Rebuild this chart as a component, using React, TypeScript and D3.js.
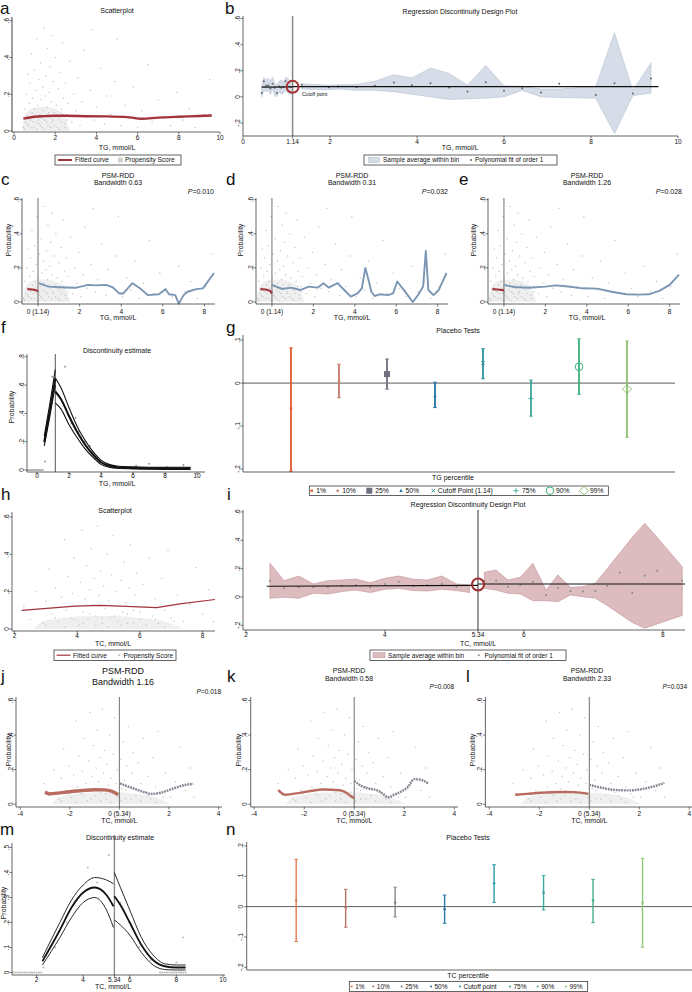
import React from "react";
import * as d3 from "d3";

type Pt = [number, number];
type Bin = [number, number, number, number]; // x, mean, lo, hi
type Sc = d3.ScaleLinear<number, number>;

const FONT = "'Liberation Sans', Arial, Helvetica, sans-serif";

// ---------- TG propensity scores (TG mmol/L, probability) ----------
const tgScatter: Pt[] = [
  [0.45, 0.02], [0.5, 0.12], [0.55, 0.05], [0.6, 0.2], [0.62, 0.08], [0.68, 0.31], [0.7, 0.03], [0.75, 0.15],
  [0.78, 0.26], [0.8, 0.06], [0.85, 0.42], [0.88, 0.1], [0.9, 0.18], [0.95, 0.02], [0.98, 0.33], [1.0, 0.12],
  [1.05, 0.22], [1.08, 0.05], [1.1, 0.5], [1.15, 0.14], [1.2, 0.28], [1.22, 0.04], [1.25, 0.09], [1.3, 0.37],
  [1.32, 0.17], [1.35, 0.02], [1.4, 0.24], [1.42, 0.11], [1.45, 0.56], [1.5, 0.06], [1.52, 0.19], [1.55, 0.3],
  [1.6, 0.13], [1.62, 0.45], [1.65, 0.03], [1.7, 0.21], [1.72, 0.08], [1.75, 0.35], [1.8, 0.16], [1.82, 0.52],
  [1.85, 0.05], [1.9, 0.27], [1.95, 0.1], [2.0, 0.4], [2.05, 0.14], [2.1, 0.02], [2.15, 0.23], [2.2, 0.07],
  [2.25, 0.32], [2.3, 0.12], [2.35, 0.48], [2.4, 0.18], [2.45, 0.04], [2.5, 0.26], [2.55, 0.09], [2.6, 0.15],
  [2.7, 0.38], [2.8, 0.05], [2.9, 0.2], [3.0, 0.11], [3.1, 0.29], [3.2, 0.03], [3.3, 0.16], [3.4, 0.44],
  [3.5, 0.08], [3.7, 0.22], [3.8, 0.55], [3.9, 0.06], [4.0, 0.13], [4.2, 0.34], [4.4, 0.04], [4.5, 0.19],
  [4.7, 0.09], [4.9, 0.27], [5.0, 0.5], [5.2, 0.03], [5.4, 0.14], [5.6, 0.07], [5.8, 0.24], [6.0, 0.02],
  [6.2, 0.11], [6.5, 0.36], [6.7, 0.05], [7.0, 0.17], [7.3, 0.08], [7.6, 0.03], [7.9, 0.21], [8.2, 0.06],
  [8.5, 0.12], [8.8, 0.02], [9.2, 0.09], [9.5, 0.28],
  [0.5, 0.01], [0.65, 0.04], [0.72, 0.07], [0.82, 0.02], [0.92, 0.05], [1.02, 0.08], [1.12, 0.01], [1.18, 0.06],
  [1.28, 0.03], [1.38, 0.07], [1.48, 0.01], [1.58, 0.05], [1.68, 0.1], [1.78, 0.02], [1.88, 0.06], [1.98, 0.03],
  [2.08, 0.08], [2.18, 0.01], [2.28, 0.05], [2.38, 0.09], [2.48, 0.02], [2.58, 0.06],
];
// outline of the dense part of the TG cloud (x, top)
const tgCore: Pt[] = [[0.4, 0.0], [0.5, 0.08], [0.8, 0.12], [1.2, 0.13], [1.6, 0.13], [2.0, 0.12], [2.4, 0.09], [2.7, 0.0]];

// ---------- TC propensity scores ----------
const tcScatter: Pt[] = [
  [2.3, 0.12], [2.5, 0.05], [2.7, 0.2], [2.9, 0.03], [3.0, 0.15], [3.1, 0.32], [3.2, 0.08], [3.3, 0.22],
  [3.4, 0.04], [3.5, 0.17], [3.6, 0.48], [3.65, 0.1], [3.7, 0.28], [3.8, 0.06], [3.85, 0.19], [3.9, 0.38],
  [4.0, 0.12], [4.05, 0.02], [4.1, 0.25], [4.15, 0.53], [4.2, 0.09], [4.25, 0.16], [4.3, 0.34], [4.35, 0.05],
  [4.4, 0.21], [4.45, 0.43], [4.5, 0.13], [4.55, 0.27], [4.6, 0.07], [4.65, 0.55], [4.7, 0.18], [4.75, 0.31],
  [4.8, 0.03], [4.85, 0.23], [4.9, 0.11], [4.95, 0.4], [5.0, 0.15], [5.05, 0.06], [5.1, 0.29], [5.15, 0.5],
  [5.2, 0.12], [5.25, 0.2], [5.3, 0.04], [5.4, 0.26], [5.45, 0.09], [5.5, 0.36], [5.55, 0.14], [5.6, 0.03],
  [5.65, 0.22], [5.7, 0.45], [5.8, 0.1], [5.85, 0.18], [5.9, 0.3], [6.0, 0.05], [6.1, 0.24], [6.2, 0.12],
  [6.3, 0.38], [6.4, 0.07], [6.5, 0.16], [6.6, 0.03], [6.7, 0.27], [6.8, 0.1], [6.9, 0.42], [7.0, 0.06],
  [7.2, 0.18], [7.4, 0.04], [7.6, 0.13], [7.8, 0.33], [8.0, 0.08], [8.2, 0.21], [8.35, 0.04],
  [3.0, 0.02], [3.3, 0.06], [3.6, 0.01], [3.9, 0.05], [4.2, 0.03], [4.4, 0.08], [4.6, 0.02], [4.8, 0.06],
  [5.0, 0.01], [5.2, 0.07], [5.4, 0.02], [5.6, 0.08], [5.8, 0.03], [6.0, 0.09], [6.2, 0.02], [6.5, 0.05],
  [6.8, 0.01], [7.1, 0.04],
];
const tcCore: Pt[] = [[2.6, 0.0], [2.9, 0.04], [3.6, 0.06], [4.4, 0.07], [5.2, 0.07], [6.0, 0.06], [6.8, 0.04], [7.4, 0.0]];

// ---------- a ----------
const aFitted: Pt[] = [[0.45, 0.068], [1.0, 0.078], [1.5, 0.081], [2.0, 0.083], [2.5, 0.083], [3.5, 0.081], [4.5, 0.08], [5.5, 0.076], [6.2, 0.067], [7.0, 0.073], [8.0, 0.078], [9.0, 0.082], [9.6, 0.085]];

// ---------- b ----------
const bLeftBins: Bin[] = [
  [0.43, 0.03, 0.0, 0.08], [0.48, 0.12, 0.05, 0.15], [0.53, 0.085, 0.04, 0.13], [0.58, 0.09, 0.05, 0.14],
  [0.63, 0.065, 0.02, 0.12], [0.68, 0.1, 0.06, 0.15], [0.73, 0.07, 0.01, 0.1], [0.78, 0.03, 0.0, 0.09],
  [0.83, 0.08, 0.04, 0.12], [0.88, 0.07, 0.02, 0.13], [0.93, 0.075, 0.03, 0.11], [0.98, 0.12, 0.05, 0.15],
  [1.03, 0.08, 0.03, 0.14], [1.1, 0.075, 0.02, 0.12],
];
const bRightBins: Bin[] = [
  [1.35, 0.092, 0.06, 0.1], [1.97, 0.074, 0.055, 0.09], [2.19, 0.08, 0.06, 0.092], [2.61, 0.074, 0.05, 0.095],
  [3.03, 0.085, 0.05, 0.12], [3.47, 0.11, 0.04, 0.17], [3.88, 0.09, 0.02, 0.145], [4.31, 0.105, 0.0, 0.22],
  [4.74, 0.072, -0.02, 0.18], [5.16, 0.041, -0.015, 0.09], [5.58, 0.113, -0.01, 0.24], [6.0, 0.046, 0.0, 0.085],
  [6.42, 0.067, 0.05, 0.08], [6.85, 0.033, 0.0, 0.06], [7.27, 0.1, -0.005, 0.06], [8.11, 0.015, -0.01, 0.08],
  [8.54, 0.105, -0.28, 0.49], [8.96, 0.025, 0.01, 0.05], [9.38, 0.14, 0.03, 0.26],
];
const bFitLeft: Pt[] = [[0.43, 0.075], [1.14, 0.077]];
const bFitRight: Pt[] = [[1.14, 0.079], [9.55, 0.078]];

// ---------- c, d, e (TG centred at 1.14) ----------
const cLeft: Pt[] = [[-0.51, 0.075], [-0.25, 0.073], [0, 0.064]];
const cRight: Pt[] = [[0.04, 0.11], [0.5, 0.09], [1.3, 0.085], [1.8, 0.083], [2.4, 0.1], [2.8, 0.097], [3.27, 0.1], [3.6, 0.085], [3.9, 0.05], [4.1, 0.05], [4.54, 0.11], [4.9, 0.08], [5.28, 0.04], [5.81, 0.045], [6.13, 0.075], [6.3, 0.045], [6.6, 0.04], [6.77, -0.01], [7.0, 0.04], [7.19, 0.06], [7.61, 0.075], [7.93, 0.08], [8.46, 0.17]];
const dLeft: Pt[] = [[-0.56, 0.075], [-0.3, 0.073], [-0.1, 0.066], [0, 0.05]];
const dRight: Pt[] = [[0, 0.1], [0.5, 0.076], [0.93, 0.084], [1.36, 0.07], [1.78, 0.09], [2.2, 0.084], [2.49, 0.11], [2.74, 0.084], [3.17, 0.11], [3.49, 0.07], [3.81, 0.031], [4.13, 0.05], [4.34, 0.08], [4.51, 0.2], [4.62, 0.15], [4.8, 0.06], [4.95, 0.035], [5.2, 0.045], [5.6, 0.04], [5.85, 0.05], [6.05, 0.12], [6.4, 0.065], [6.8, 0.0], [7.05, 0.04], [7.3, 0.09], [7.43, 0.3], [7.55, 0.07], [7.8, 0.04], [8.05, 0.07], [8.43, 0.17]];
const eLeft: Pt[] = [[-0.56, 0.075], [-0.3, 0.073], [0, 0.068]];
const eRight: Pt[] = [[0, 0.1], [0.5, 0.088], [1.2, 0.083], [2.0, 0.09], [2.5, 0.097], [3.0, 0.092], [3.8, 0.08], [4.5, 0.078], [5.2, 0.06], [5.9, 0.045], [6.5, 0.043], [7.0, 0.045], [7.5, 0.065], [8.0, 0.1], [8.45, 0.16]];

// ---------- f ----------
const fLeftUpper: Pt[] = [[0.45, 0.24], [0.8, 0.47], [1.14, 0.71]];
const fLeftFit: Pt[] = [[0.45, 0.2], [0.8, 0.42], [1.14, 0.65]];
const fLeftLower: Pt[] = [[0.45, 0.17], [0.8, 0.38], [1.14, 0.6]];
const fRightUpper: Pt[] = [[1.14, 0.65], [1.5, 0.58], [2, 0.44], [2.5, 0.31], [3, 0.21], [3.5, 0.13], [4, 0.07], [4.5, 0.04], [5, 0.028], [6, 0.022], [7, 0.02], [8, 0.02], [9, 0.02], [9.6, 0.02]];
const fRightFit: Pt[] = [[1.14, 0.555], [1.5, 0.5], [2, 0.38], [2.5, 0.27], [3, 0.18], [3.5, 0.11], [4, 0.055], [4.5, 0.03], [5, 0.02], [6, 0.015], [7, 0.012], [8, 0.012], [9, 0.012], [9.6, 0.012]];
const fRightLower: Pt[] = [[1.14, 0.475], [1.5, 0.43], [2, 0.32], [2.5, 0.23], [3, 0.15], [3.5, 0.09], [4, 0.04], [4.5, 0.02], [5, 0.012], [6, 0.008], [7, 0.005], [8, 0.004], [9, 0.004], [9.6, 0.004]];
const fBins: Pt[] = [[0.45, 0.2], [0.5, 0.06], [0.95, 0.66], [1.75, 0.73], [1.95, 0.39], [2.15, 0.33], [2.4, 0.37], [2.6, 0.27], [2.75, 0.23], [3.0, 0.2], [3.3, 0.17], [3.6, 0.08], [3.9, 0.06], [4.3, 0.04], [4.8, 0.03], [5.5, 0.02], [6.2, 0.03], [7.0, 0.045], [7.6, 0.01], [8.1, 0.02], [8.6, 0.015], [9.15, 0.035], [9.5, 0.005]];
const fZeros: number[] = [-0.55, -0.45, -0.35, -0.25, -0.15, -0.05, 0.05, 0.15, 0.25, 0.35];

// ---------- g: placebo tests (TG) ----------
const gLabels = ["1%", "10%", "25%", "50%", "Cutoff Point (1.14)", "75%", "90%", "99%"];
const gEst = [-0.059, 0.005, 0.021, -0.03, 0.047, -0.036, 0.038, -0.014];
const gLow = [-0.205, -0.034, -0.014, -0.057, 0.01, -0.077, -0.026, -0.126];
const gHigh = [0.082, 0.044, 0.056, 0.002, 0.08, 0.007, 0.103, 0.098];

// ---------- h ----------
const hFitted: Pt[] = [[2.23, 0.1], [3.13, 0.112], [3.93, 0.122], [4.73, 0.126], [5.37, 0.122], [6.54, 0.114], [7.28, 0.134], [8.4, 0.158]];

// ---------- i ----------
const iLeftMeans: Pt[] = [[2.345, 0.115], [2.55, 0.061], [2.76, 0.068], [2.97, 0.068], [3.18, 0.073], [3.38, 0.08], [3.58, 0.085], [3.79, 0.068], [4.0, 0.092], [4.2, 0.108], [4.41, 0.08], [4.61, 0.085], [4.82, 0.092], [5.03, 0.073]];
const iLeftBand: Pt[] = [[2.345, -0.009], [2.55, -0.002], [2.76, -0.009], [2.97, 0.026], [3.18, 0.021], [3.38, 0.038], [3.58, 0.049], [3.79, 0.031], [4.0, 0.054], [4.2, 0.061], [4.41, 0.045], [4.61, 0.042], [4.82, 0.054], [5.03, 0.045], [5.22, 0.031]];
const iLeftBandHi: number[] = [0.238, 0.115, 0.148, 0.092, 0.115, 0.12, 0.127, 0.101, 0.132, 0.148, 0.125, 0.12, 0.148, 0.092, 0.085];
const iRightMeans: Pt[] = [[5.43, 0.115], [5.6, 0.115], [5.77, 0.073], [5.95, 0.087], [6.13, 0.106], [6.32, 0.014], [6.49, 0.066], [6.67, 0.042], [6.85, 0.038], [7.03, 0.042], [7.2, 0.08], [7.38, 0.172], [7.56, 0.03], [7.74, 0.15], [7.92, 0.186], [8.28, 0.115]];
const iRightBand: Pt[] = [[5.43, 0.061], [5.6, 0.049], [5.77, 0.026], [5.95, 0.021], [6.13, -0.026], [6.32, -0.026], [6.49, -0.033], [6.67, 0.014], [6.85, 0.002], [7.03, -0.009], [7.2, -0.06], [7.38, -0.12], [7.56, -0.18], [7.74, -0.22], [7.92, -0.19], [8.28, -0.13]];
const iRightBandHi: number[] = [0.174, 0.19, 0.12, 0.139, 0.238, 0.049, 0.156, 0.068, 0.073, 0.097, 0.2, 0.31, 0.42, 0.52, 0.42, 0.214];
const iFitLeft: Pt[] = [[2.3, 0.076], [5.34, 0.082]];
const iFitRight: Pt[] = [[5.34, 0.092], [8.32, 0.092]];

// ---------- j, k, l (TC centred at 5.34) ----------
const jLeft: Pt[] = [[-3.0, 0.07], [-2.8, 0.06], [-2.5, 0.064], [-2.0, 0.072], [-1.5, 0.079], [-1.0, 0.084], [-0.6, 0.083], [-0.3, 0.075], [-0.05, 0.055]];
const jRight: Pt[] = [[0.03, 0.12], [0.3, 0.105], [0.57, 0.091], [1.0, 0.07], [1.3, 0.06], [1.7, 0.068], [2.18, 0.091], [2.6, 0.11], [2.98, 0.118]];
const kLeft: Pt[] = [[-3.04, 0.081], [-2.77, 0.055], [-2.17, 0.066], [-1.7, 0.078], [-1.24, 0.085], [-0.57, 0.081], [-0.3, 0.065], [-0.17, 0.05], [-0.01, 0.035]];
const kRight: Pt[] = [[0, 0.135], [0.3, 0.105], [0.6, 0.09], [0.9, 0.082], [1.15, 0.06], [1.36, 0.04], [1.6, 0.055], [1.9, 0.075], [2.15, 0.1], [2.4, 0.145], [2.7, 0.14], [2.95, 0.12]];
const lLeft: Pt[] = [[-2.97, 0.055], [-2.5, 0.06], [-1.97, 0.066], [-1.17, 0.071], [-0.6, 0.07], [-0.04, 0.06]];
const lRight: Pt[] = [[0, 0.112], [0.5, 0.095], [1.0, 0.083], [1.6, 0.08], [2.0, 0.085], [2.5, 0.1], [3.0, 0.123]];

// ---------- m ----------
const mLeftUpper: Pt[] = [[2.25, 0.06], [3.0, 0.2], [3.5, 0.29], [4.0, 0.35], [4.5, 0.38], [5.0, 0.37], [5.3, 0.355]];
const mLeftFit: Pt[] = [[2.25, 0.045], [3.0, 0.17], [3.5, 0.26], [4.0, 0.32], [4.5, 0.34], [5.0, 0.31], [5.3, 0.265]];
const mLeftLower: Pt[] = [[2.25, 0.03], [3.0, 0.14], [3.5, 0.22], [4.0, 0.28], [4.5, 0.3], [5.0, 0.25], [5.3, 0.18]];
const mRightUpper: Pt[] = [[5.34, 0.4], [5.6, 0.34], [6.0, 0.25], [6.5, 0.14], [7.0, 0.07], [7.5, 0.035], [8.0, 0.03], [8.4, 0.03]];
const mRightFit: Pt[] = [[5.34, 0.305], [5.6, 0.27], [6.0, 0.2], [6.5, 0.11], [7.0, 0.05], [7.5, 0.025], [8.0, 0.02], [8.4, 0.02]];
const mRightLower: Pt[] = [[5.34, 0.21], [5.6, 0.19], [6.0, 0.15], [6.5, 0.08], [7.0, 0.03], [7.5, 0.012], [8.0, 0.01], [8.4, 0.01]];
const mBins: Pt[] = [[2.3, 0.02], [2.8, 0.1], [3.3, 0.2], [3.8, 0.3], [4.2, 0.42], [4.6, 0.36], [5.1, 0.47], [5.6, 0.28], [6.0, 0.2], [6.4, 0.1], [6.9, 0.05], [7.4, 0.03], [8.0, 0.04], [8.3, 0.14]];
const mZeros: number[] = [1.0, 1.1, 1.2, 1.3, 1.4, 1.5, 1.6, 1.7, 1.8, 1.9, 2.0, 2.1, 2.2, 7.3, 7.4, 7.5, 7.6, 7.7, 7.8, 7.9, 8.0, 8.1, 8.2, 8.3, 8.4];

// ---------- n: placebo tests (TC) ----------
const nLabels = ["1%", "10%", "25%", "50%", "Cutoff point", "75%", "90%", "99%"];
const nEst = [0.02, -0.003, 0.013, -0.009, 0.077, 0.046, 0.02, 0.013];
const nLow = [-0.115, -0.068, -0.034, -0.055, 0.014, -0.011, -0.053, -0.134];
const nHigh = [0.156, 0.057, 0.064, 0.038, 0.138, 0.102, 0.09, 0.159];

// ---------- tick labels ----------
const yTicks6 = [0, 0.2, 0.4, 0.6];
const yLabels6 = ["0", ".2", ".4", ".6"];
const bYTicks = [-0.2, 0, 0.2, 0.4, 0.6];
const bYLabels = ["-.2", "0", ".2", ".4", ".6"];
const tgTicks = [0, 2, 4, 6, 8, 10];
const tgLabels = ["0", "2", "4", "6", "8", "10"];
const bXTicks = [0, 1.14, 2, 4, 6, 8, 10];
const bXLabels = ["0", "1.14", "2", "4", "6", "8", "10"];
const relTgTicks = [0, 2, 4, 6, 8];
const relTgLabels = ["0 (1.14)", "2", "4", "6", "8"];
const fYTicks = [0, 0.2, 0.4, 0.6, 0.8];
const fYLabels = ["0", ".2", ".4", ".6", ".8"];
const gYTicks = [-0.2, -0.1, 0, 0.1];
const gYLabels = ["-.2", "-.1", "0", ".1"];
const tcTicks = [2, 4, 6, 8];
const tcLabels = ["2", "4", "6", "8"];
const iXTicks = [2, 4, 5.34, 6, 8];
const iXLabels = ["2", "4", "5.34", "6", "8"];
const relTcTicks = [-4, -2, 0, 2, 4];
const relTcLabels = ["-4", "-2", "0 (5.34)", "2", "4"];
const mYTicks = [0, 0.1, 0.2, 0.3, 0.4, 0.5];
const mYLabels = ["0", ".1", ".2", ".3", ".4", ".5"];
const mXTicks = [2, 4, 5.34, 6, 8, 10];
const mXLabels = ["2", "4", "5.34", "6", "8", "10"];
const nYTicks = [-0.2, -0.1, 0, 0.1, 0.2];
const nYLabels = ["-.2", "-.1", "0", ".1", ".2"];

// ---------- styles ----------
const RED = "#a3343b";
const DOT = "#c6c6c6";
const gColors = ["#e4572e", "#c47a6a", "#6e6e7e", "#2173a6", "#2a8f9a", "#3aa89a", "#3ab27a", "#8dc26f"];
const gMarks = ["sq", "dot", "bigsq", "tri", "x", "plus", "circle", "diamond"];
const nColors = ["#e07a50", "#b8735f", "#888888", "#2a78a8", "#2a9aa8", "#3aa8a0", "#45b088", "#90c878"];

function T(p: { x: number; y: number; s?: number; a?: string; r?: number; children: React.ReactNode; w?: string }) {
  const { x, y, s = 7, a = "middle", r = 0, children, w } = p;
  return (
    <text transform={`translate(${x},${y}) rotate(${r})`} textAnchor={a} fontSize={s} fontFamily={FONT} fontWeight={w} fill="#111">
      {children}
    </text>
  );
}

function YAxis(p: { s: Sc; x: number; ticks: number[]; labels: string[]; stroke?: string; sw?: number }) {
  const { s, x, ticks, labels, stroke = "#222", sw = 0.7 } = p;
  const [r0, r1] = s.range();
  return (
    <g>
      <line x1={x} x2={x} y1={r0} y2={r1} stroke={stroke} strokeWidth={sw} />
      {ticks.map((t, i) => (
        <g key={i}>
          <line x1={x - 2.5} x2={x} y1={s(t)} y2={s(t)} stroke="#222" strokeWidth={0.6} />
          <T x={x - 3.5} y={s(t)} s={6.5} r={-90}>{labels[i]}</T>
        </g>
      ))}
    </g>
  );
}

function XAxis(p: { s: Sc; y: number; ticks: number[]; labels: string[]; ly: number; stroke?: string }) {
  const { s, y, ticks, labels, ly, stroke = "#222" } = p;
  const [r0, r1] = s.range();
  return (
    <g>
      <line x1={r0} x2={r1} y1={y} y2={y} stroke={stroke} strokeWidth={0.7} />
      {ticks.map((t, i) => (
        <g key={i}>
          <line x1={s(t)} x2={s(t)} y1={y} y2={y + 2.5} stroke="#222" strokeWidth={0.6} />
          <T x={s(t)} y={ly} s={6.5}>{labels[i]}</T>
        </g>
      ))}
    </g>
  );
}

function Scatter(p: { pts: Pt[]; xs: Sc; ys: Sc; dx?: number; r?: number; fill?: string }) {
  const { pts, xs, ys, dx = 0, r = 0.75, fill = DOT } = p;
  return <g>{pts.map((d, i) => <circle key={i} cx={xs(d[0] - dx)} cy={ys(d[1])} r={r} fill={fill} />)}</g>;
}

function Core(p: { pts: Pt[]; xs: Sc; ys: Sc; dx?: number }) {
  const { pts, xs, ys, dx = 0 } = p;
  const area = d3.area<Pt>().x((d) => xs(d[0] - dx)).y0(ys(0)).y1((d) => ys(d[1])).curve(d3.curveMonotoneX);
  return <path d={area(pts) ?? ""} fill="#dcdcdc" opacity={0.45} />;
}

function Curve(p: { pts: Pt[]; xs: Sc; ys: Sc; stroke: string; sw: number; dash?: string; smooth?: boolean }) {
  const { pts, xs, ys, stroke, sw, dash, smooth } = p;
  const gen = d3.line<Pt>().x((d) => xs(d[0])).y((d) => ys(d[1])).curve(smooth ? d3.curveMonotoneX : d3.curveLinear);
  return <path d={gen(pts) ?? ""} fill="none" stroke={stroke} strokeWidth={sw} strokeDasharray={dash} strokeLinejoin="round" />;
}

function Marker(p: { k: string; x: number; y: number; c: string }) {
  const { k, x, y, c } = p;
  switch (k) {
    case "sq": return <rect x={x - 1.2} y={y - 1.2} width={2.4} height={2.4} fill={c} />;
    case "bigsq": return <rect x={x - 3} y={y - 3} width={6} height={6} fill={c} />;
    case "tri": return <path d={`M${x},${y - 1.9}L${x + 1.7},${y + 1.2}L${x - 1.7},${y + 1.2}Z`} fill={c} />;
    case "x": return <path d={`M${x - 1.8},${y - 1.8}L${x + 1.8},${y + 1.8}M${x - 1.8},${y + 1.8}L${x + 1.8},${y - 1.8}`} stroke={c} strokeWidth={0.9} />;
    case "plus": return <path d={`M${x - 2.6},${y}H${x + 2.6}M${x},${y - 2.6}V${y + 2.6}`} stroke={c} strokeWidth={0.9} />;
    case "circle": return <circle cx={x} cy={y} r={3.8} fill="none" stroke={c} strokeWidth={1} />;
    case "diamond": return <path d={`M${x},${y - 4.5}L${x + 4.5},${y}L${x},${y + 4.5}L${x - 4.5},${y}Z`} fill="none" stroke={c} strokeWidth={1} />;
    default: return <circle cx={x} cy={y} r={1.3} fill={c} />;
  }
}

function Placebo(p: { xs: Sc; ys: Sc; est: number[]; lo: number[]; hi: number[]; colors: string[]; marks?: string[]; sw: number }) {
  const { xs, ys, est, lo, hi, colors, marks, sw } = p;
  return (
    <g>
      {est.map((e, i) => {
        const x = xs(i + 1);
        const c = colors[i];
        return (
          <g key={i}>
            <line x1={x} x2={x} y1={ys(lo[i])} y2={ys(hi[i])} stroke={c} strokeWidth={sw} />
            <line x1={x - 1.8} x2={x + 1.8} y1={ys(lo[i])} y2={ys(lo[i])} stroke={c} strokeWidth={1} />
            <line x1={x - 1.8} x2={x + 1.8} y1={ys(hi[i])} y2={ys(hi[i])} stroke={c} strokeWidth={1} />
            <Marker k={marks ? marks[i] : "dot"} x={x} y={ys(e)} c={c} />
          </g>
        );
      })}
    </g>
  );
}

function BandArea(p: { lo: Pt[]; hi: number[]; xs: Sc; ys: Sc; fill: string; stroke: string }) {
  const { lo, hi, xs, ys, fill, stroke } = p;
  const area = d3.area<Pt>().x((d) => xs(d[0])).y0((d) => ys(d[1])).y1((_, i) => ys(hi[i]));
  return <path d={area(lo) ?? ""} fill={fill} stroke={stroke} strokeWidth={0.6} />;
}

function PsmTg(p: { xs: Sc; ys: Sc; left: Pt[]; right: Pt[]; yAxisX: number; probX: number; title: string; pval: string; pRight: number; cx: number }) {
  const { xs, ys, left, right, yAxisX, probX, title, pval, pRight, cx } = p;
  return (
    <g>
      <Core pts={tgCore} xs={xs} ys={ys} dx={1.14} />
      <Scatter pts={tgScatter} xs={xs} ys={ys} dx={1.14} />
      <line x1={xs(0)} x2={xs(0)} y1={198} y2={304} stroke="#333" strokeWidth={0.7} />
      <Curve pts={left} xs={xs} ys={ys} stroke={RED} sw={2.2} />
      <Curve pts={right} xs={xs} ys={ys} stroke="#7b96b5" sw={1.9} />
      <YAxis s={ys} x={yAxisX} ticks={yTicks6} labels={yLabels6} />
      <XAxis s={xs} y={304} ticks={relTgTicks} labels={relTgLabels} ly={313.5} />
      <T x={cx} y={319.5}>TG, mmol/L</T>
      <T x={probX} y={240} r={-90}>Probability</T>
      <T x={cx} y={177.5}>PSM-RDD</T>
      <T x={cx} y={185}>{title}</T>
      <T x={pRight} y={193.5} a="end"><tspan fontStyle="italic">P</tspan>{pval}</T>
    </g>
  );
}

function PsmTc(p: { xs: Sc; ys: Sc; left: Pt[]; right: Pt[]; yAxisX: number; probX: number; lw: number }) {
  const { xs, ys, left, right, yAxisX, probX, lw } = p;
  return (
    <g>
      <Core pts={tcCore} xs={xs} ys={ys} dx={5.34} />
      <Scatter pts={tcScatter} xs={xs} ys={ys} dx={5.34} />
      <line x1={xs(0)} x2={xs(0)} y1={697} y2={807} stroke="#333" strokeWidth={0.7} />
      <Curve pts={left} xs={xs} ys={ys} stroke="#b86b5e" sw={lw} smooth />
      <Curve pts={right} xs={xs} ys={ys} stroke="#80858f" sw={2.4} dash="1.8,0.9" smooth />
      <YAxis s={ys} x={yAxisX} ticks={yTicks6} labels={yLabels6} />
      <XAxis s={xs} y={807} ticks={relTcTicks} labels={relTcLabels} ly={815.5} />
      <T x={xs(0)} y={822.5}>TC, mmol/L</T>
      <T x={probX} y={750} r={-90}>Probability</T>
    </g>
  );
}

export default function App() {
  const xa = d3.scaleLinear().domain([-0.1, 10]).range([12, 220]);
  const ya = d3.scaleLinear().domain([-0.005, 0.62]).range([132, 17]);
  const xb = d3.scaleLinear().domain([0, 10]).range([243, 678]);
  const yb = d3.scaleLinear().domain([-0.3, 0.62]).range([136, 16]);
  const yc = d3.scaleLinear().domain([-0.012, 0.61]).range([304, 198]);
  const xc = d3.scaleLinear().domain([-0.77, 8.5]).range([22, 214.8]);
  const xd = d3.scaleLinear().domain([-0.77, 8.5]).range([256, 448]);
  const xe = d3.scaleLinear().domain([-0.77, 8.5]).range([488, 680]);
  const xf = d3.scaleLinear().domain([-0.63, 10.5]).range([27, 205]);
  const yf = d3.scaleLinear().domain([-0.014, 0.82]).range([472, 354]);
  const xg = d3.scaleLinear().domain([0, 9]).range([243, 675]);
  const yg = d3.scaleLinear().domain([-0.207, 0.112]).range([472, 335]);
  const xh = d3.scaleLinear().domain([1.92, 8.4]).range([12, 215]);
  const yh = d3.scaleLinear().domain([-0.011, 0.627]).range([631, 512]);
  const xi = d3.scaleLinear().domain([1.957, 8.32]).range([243, 685]);
  const yi = d3.scaleLinear().domain([-0.233, 0.614]).range([630, 510]);
  const yj = d3.scaleLinear().domain([-0.016, 0.62]).range([807, 697]);
  const xj = d3.scaleLinear().domain([-4.17, 4.14]).range([16, 222]);
  const xk = d3.scaleLinear().domain([-4.14, 4.15]).range([250.7, 458]);
  const xl = d3.scaleLinear().domain([-4.16, 4.11]).range([485.4, 692]);
  const xm = d3.scaleLinear().domain([0.944, 10.09]).range([12, 225]);
  const ym = d3.scaleLinear().domain([-0.01, 0.518]).range([975, 843]);
  const xn = d3.scaleLinear().domain([0, 9]).range([246.7, 692]);
  const yn = d3.scaleLinear().domain([-0.209, 0.213]).range([970, 842]);

  const bMean = (b: Bin[]) => b.map((d) => [d[0], d[1]] as Pt);
  const bBand = (b: Bin[]) => {
    const a = d3.area<Bin>().x((d) => xb(d[0])).y0((d) => yb(d[2])).y1((d) => yb(d[3]));
    return a(b) ?? "";
  };

  const letters: [string, number, number][] = [
    ["a", 0, 14], ["b", 225, 14], ["c", 1, 185], ["d", 226, 185], ["e", 459, 185],
    ["f", 1, 333], ["g", 226, 333], ["h", 1, 500], ["i", 227, 500],
    ["j", 1, 682], ["k", 227, 682], ["l", 466, 682], ["m", 0, 835], ["n", 226, 835],
  ];

  const gLegX = [311.7, 337.7, 369.3, 401, 433.3, 516, 550, 584];
  const nLegX = [351.7, 373.3, 401.7, 431, 460, 510, 537.7, 566];

  return (
    <svg width={692} height={992} style={{ position: "absolute", left: 0, top: 0, background: "#fff" }} fontFamily={FONT}>
      <rect width={692} height={992} fill="#fff" />
      {letters.map(([t, x, y]) => (
        <text key={t} x={x} y={y} fontSize={17} fontFamily={FONT} fill="#111">{t}</text>
      ))}

      {/* a */}
      <Core pts={tgCore} xs={xa} ys={ya} />
      <Scatter pts={tgScatter} xs={xa} ys={ya} />
      <Curve pts={aFitted} xs={xa} ys={ya} stroke={RED} sw={2.4} smooth />
      <YAxis s={ya} x={12} ticks={yTicks6} labels={yLabels6} stroke="#888" sw={1.6} />
      <XAxis s={xa} y={132} ticks={tgTicks} labels={tgLabels} ly={139.5} />
      <T x={117} y={12.5}>Scatterplot</T>
      <T x={117} y={149.5}>TG, mmol/L</T>
      <g>
        <rect x={55} y={155} width={126} height={10} fill="#fff" stroke="#222" strokeWidth={0.7} />
        <line x1={58} x2={72} y1={160} y2={160} stroke={RED} strokeWidth={2} />
        <T x={75} y={162.4} s={6.5} a="start">Fitted curve</T>
        <rect x={118} y={157.6} width={4.8} height={4.8} fill="#d0d0d0" />
        <T x={125} y={162.4} s={6.5} a="start">Propensity Score</T>
      </g>

      {/* b */}
      <path d={bBand(bLeftBins)} fill="#d6dde9" stroke="#aab6c8" strokeWidth={0.5} />
      <path d={bBand(bRightBins)} fill="#d6dde9" stroke="#aab6c8" strokeWidth={0.5} />
      <Scatter pts={bMean(bLeftBins)} xs={xb} ys={yb} r={1} fill="#666" />
      <Scatter pts={bMean(bRightBins)} xs={xb} ys={yb} r={1} fill="#666" />
      <line x1={xb(1.14)} x2={xb(1.14)} y1={16} y2={136} stroke="#888" strokeWidth={1.5} />
      <Curve pts={bFitLeft} xs={xb} ys={yb} stroke="#111" sw={1.2} />
      <Curve pts={bFitRight} xs={xb} ys={yb} stroke="#111" sw={1.2} />
      <circle cx={xb(1.14)} cy={yb(0.077)} r={6} fill="none" stroke="#a83232" strokeWidth={2} />
      <T x={302} y={96} s={5} a="start">Cutoff point</T>
      <YAxis s={yb} x={243} ticks={bYTicks} labels={bYLabels} />
      <XAxis s={xb} y={136} ticks={bXTicks} labels={bXLabels} ly={143.5} />
      <T x={460} y={14}>Regression Discontinuity Design Plot</T>
      <T x={460} y={150}>TG, mmol/L</T>
      <g>
        <rect x={364} y={155} width={193} height={10} fill="#fff" stroke="#222" strokeWidth={0.7} />
        <rect x={368.5} y={157.5} width={11} height={5} fill="#d6dde9" stroke="#aab6c8" strokeWidth={0.5} />
        <T x={383} y={162.4} s={6.5} a="start">Sample average within bin</T>
        <circle cx={471} cy={160} r={1} fill="#666" />
        <T x={475} y={162.4} s={6.5} a="start">Polynomial fit of order 1</T>
      </g>

      {/* c, d, e */}
      <PsmTg xs={xc} ys={yc} left={cLeft} right={cRight} yAxisX={22} probX={10.5} title="Bandwidth 0.63" pval="=0.010" pRight={214} cx={118} />
      <PsmTg xs={xd} ys={yc} left={dLeft} right={dRight} yAxisX={256} probX={243} title="Bandwidth 0.31" pval="=0.032" pRight={448} cx={352} />
      <PsmTg xs={xe} ys={yc} left={eLeft} right={eRight} yAxisX={488} probX={476} title="Bandwidth 1.26" pval="=0.028" pRight={682} cx={587} />

      {/* f */}
      <Scatter pts={fZeros.map((x) => [x, 0] as Pt)} xs={xf} ys={yf} r={1.1} fill="#aaa" />
      <Scatter pts={fBins} xs={xf} ys={yf} r={1} fill="#999" />
      <line x1={xf(1.14)} x2={xf(1.14)} y1={354} y2={472} stroke="#444" strokeWidth={0.9} />
      <Curve pts={fLeftUpper} xs={xf} ys={yf} stroke="#111" sw={1.1} />
      <Curve pts={fLeftFit} xs={xf} ys={yf} stroke="#111" sw={2} />
      <Curve pts={fLeftLower} xs={xf} ys={yf} stroke="#111" sw={1.1} />
      <Curve pts={fRightUpper} xs={xf} ys={yf} stroke="#111" sw={1.1} smooth />
      <Curve pts={fRightFit} xs={xf} ys={yf} stroke="#111" sw={2} smooth />
      <Curve pts={fRightLower} xs={xf} ys={yf} stroke="#111" sw={1.1} smooth />
      <YAxis s={yf} x={27} ticks={fYTicks} labels={fYLabels} />
      <XAxis s={xf} y={472} ticks={tgTicks} labels={tgLabels} ly={477.8} />
      <T x={117} y={353}>Discontinuity estimate</T>
      <T x={117} y={485.5}>TG, mmol/L</T>
      <T x={14} y={407} r={-90}>Probability</T>

      {/* g */}
      <line x1={243} x2={675} y1={yg(0)} y2={yg(0)} stroke="#333" strokeWidth={0.8} />
      <Placebo xs={xg} ys={yg} est={gEst} lo={gLow} hi={gHigh} colors={gColors} marks={gMarks} sw={1.8} />
      <YAxis s={yg} x={243} ticks={gYTicks} labels={gYLabels} />
      <line x1={243} x2={675} y1={472} y2={472} stroke="#222" strokeWidth={0.7} />
      <T x={458} y={333}>Placebo Tests</T>
      <T x={453} y={479.5}>TG percentile</T>
      <g>
        <rect x={309.3} y={486} width={299} height={9.5} fill="#fff" stroke="#222" strokeWidth={0.7} />
        {gLabels.map((lab, i) => (
          <g key={lab}>
            <Marker k={gMarks[i]} x={gLegX[i]} y={490.7} c={gColors[i]} />
            <T x={gLegX[i] + (i === 2 || i >= 5 ? 6 : 4.5)} y={493.2} s={6.8} a="start">{lab}</T>
          </g>
        ))}
      </g>

      {/* h */}
      <Core pts={tcCore} xs={xh} ys={yh} />
      <Scatter pts={tcScatter} xs={xh} ys={yh} />
      <Curve pts={hFitted} xs={xh} ys={yh} stroke={RED} sw={1.2} />
      <YAxis s={yh} x={12} ticks={yTicks6} labels={yLabels6} />
      <XAxis s={xh} y={631} ticks={tcTicks} labels={tcLabels} ly={637.5} />
      <T x={115} y={513}>Scatterplot</T>
      <T x={113} y={645.5}>TC, mmol/L</T>
      <g>
        <rect x={54} y={650} width={122} height={10.5} fill="#fff" stroke="#222" strokeWidth={0.7} />
        <line x1={56.5} x2={70.5} y1={655.2} y2={655.2} stroke={RED} strokeWidth={1.2} />
        <T x={73} y={657.6} s={6.5} a="start">Fitted curve</T>
        <circle cx={119} cy={655.2} r={1} fill="#bbb" />
        <T x={123.6} y={657.6} s={6.5} a="start">Propensity Score</T>
      </g>

      {/* i */}
      <BandArea lo={iLeftBand} hi={iLeftBandHi} xs={xi} ys={yi} fill="#dcbcbf" stroke="#c48f95" />
      <BandArea lo={iRightBand} hi={iRightBandHi} xs={xi} ys={yi} fill="#dcbcbf" stroke="#c48f95" />
      <Scatter pts={iLeftMeans} xs={xi} ys={yi} r={1} fill="#8a8a8a" />
      <Scatter pts={iRightMeans} xs={xi} ys={yi} r={1} fill="#8a8a8a" />
      <line x1={xi(5.34)} x2={xi(5.34)} y1={510} y2={630} stroke="#777" strokeWidth={1.5} />
      <Curve pts={iFitLeft} xs={xi} ys={yi} stroke="#111" sw={1.1} />
      <Curve pts={iFitRight} xs={xi} ys={yi} stroke="#111" sw={1.1} />
      <circle cx={xi(5.34)} cy={yi(0.088)} r={6} fill="none" stroke="#9e2a2f" strokeWidth={2} />
      <YAxis s={yi} x={243} ticks={bYTicks} labels={bYLabels} />
      <XAxis s={xi} y={630} ticks={iXTicks} labels={iXLabels} ly={637} />
      <T x={468} y={507}>Regression Discontinuity Design Plot</T>
      <T x={478} y={645.5}>TC, mmol/L</T>
      <g>
        <rect x={370} y={650} width={196} height={10.5} fill="#fff" stroke="#222" strokeWidth={0.7} />
        <rect x={373} y={652.6} width={12} height={5.2} fill="#dcbcbf" stroke="#c48f95" strokeWidth={0.5} />
        <T x={388} y={657.6} s={6.5} a="start">Sample average within bin</T>
        <circle cx={478.8} cy={655.2} r={1} fill="#8a8a8a" />
        <T x={484.5} y={657.6} s={6.5} a="start">Polynomial fit of order 1</T>
      </g>

      {/* j, k, l */}
      <PsmTc xs={xj} ys={yj} left={jLeft} right={jRight} yAxisX={16} probX={11} lw={3.4} />
      <PsmTc xs={xk} ys={yj} left={kLeft} right={kRight} yAxisX={250.7} probX={240.5} lw={2.4} />
      <PsmTc xs={xl} ys={yj} left={lLeft} right={lRight} yAxisX={485.4} probX={474.5} lw={2.4} />
      <T x={123} y={673.5} s={9}>PSM-RDD</T>
      <T x={123} y={685} s={9}>Bandwidth 1.16</T>
      <T x={221} y={694} s={6.5} a="end"><tspan fontStyle="italic">P</tspan>=0.018</T>
      <T x={349} y={672.5}>PSM-RDD</T>
      <T x={349} y={680.5}>Bandwidth 0.58</T>
      <T x={454} y={689} s={6.5} a="end"><tspan fontStyle="italic">P</tspan>=0.008</T>
      <T x={587} y={672.5}>PSM-RDD</T>
      <T x={587} y={680.5}>Bandwidth 2.33</T>
      <T x={687} y={689} s={6.5} a="end"><tspan fontStyle="italic">P</tspan>=0.034</T>

      {/* m */}
      <Scatter pts={mZeros.map((x) => [x, 0] as Pt)} xs={xm} ys={ym} r={1.1} fill="#bbb" />
      <Scatter pts={mBins} xs={xm} ys={ym} r={1} fill="#bbb" />
      <line x1={xm(5.34)} x2={xm(5.34)} y1={835} y2={975} stroke="#888" strokeWidth={1.4} />
      <Curve pts={mLeftUpper} xs={xm} ys={ym} stroke="#111" sw={0.9} smooth />
      <Curve pts={mLeftFit} xs={xm} ys={ym} stroke="#111" sw={1.8} smooth />
      <Curve pts={mLeftLower} xs={xm} ys={ym} stroke="#111" sw={0.9} smooth />
      <Curve pts={mRightUpper} xs={xm} ys={ym} stroke="#111" sw={0.9} smooth />
      <Curve pts={mRightFit} xs={xm} ys={ym} stroke="#111" sw={1.8} smooth />
      <Curve pts={mRightLower} xs={xm} ys={ym} stroke="#111" sw={0.9} smooth />
      <YAxis s={ym} x={12} ticks={mYTicks} labels={mYLabels} />
      <XAxis s={xm} y={975} ticks={mXTicks} labels={mXLabels} ly={981.8} />
      <T x={120} y={839.5}>Discontinuity estimate</T>
      <T x={113} y={989}>TC, mmol/L</T>
      <T x={6} y={903} r={-90}>Probability</T>

      {/* n */}
      <line x1={246.7} x2={692} y1={yn(0)} y2={yn(0)} stroke="#333" strokeWidth={0.8} />
      <Placebo xs={xn} ys={yn} est={nEst} lo={nLow} hi={nHigh} colors={nColors} sw={1.4} />
      <YAxis s={yn} x={246.7} ticks={nYTicks} labels={nYLabels} />
      <line x1={246.7} x2={692} y1={970} y2={970} stroke="#222" strokeWidth={0.7} />
      <T x={468} y={839.5}>Placebo Tests</T>
      <T x={468} y={977.5}>TC percentile</T>
      <g>
        <rect x={349.3} y={981.5} width={238.4} height={10} fill="#fff" stroke="#222" strokeWidth={0.7} />
        {nLabels.map((lab, i) => (
          <g key={lab}>
            <circle cx={nLegX[i]} cy={986.5} r={1.1} fill={nColors[i]} />
            <T x={nLegX[i] + 3.5} y={989} s={6.5} a="start">{lab}</T>
          </g>
        ))}
      </g>
    </svg>
  );
}
